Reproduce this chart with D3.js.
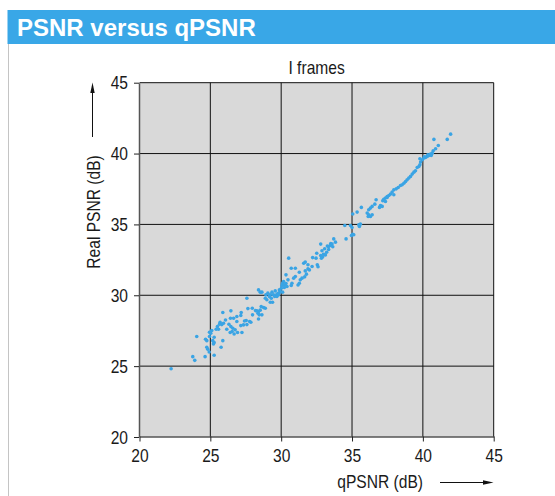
<!DOCTYPE html>
<html>
<head>
<meta charset="utf-8">
<script src="https://cdn.jsdelivr.net/npm/d3@7"></script>
<style>
  html, body { margin: 0; padding: 0; background: #ffffff; }
  svg { display: block; }
</style>
</head>
<body>
<svg id="chart" width="555" height="496"></svg>
<script>
// ---- Data ----
const chartTitle = "PSNR versus qPSNR";
const panelTitle = "I frames";
const xLabel = "qPSNR (dB)";
const yLabel = "Real PSNR (dB)";
const xTicks = [20, 25, 30, 35, 40, 45];
const yTicks = [20, 25, 30, 35, 40, 45];

// qPSNR (x) values of I frames
const qPSNR = [
  27.58,25.88,26.45,27.18,27.65,27.96,28.19,26.87,27.15,26.64,26.42,26.07,25.69,25.93,25.81,25.65,25.50,25.58,25.41,26.31,
  26.45,26.16,26.40,26.54,26.68,26.92,27.23,27.34,27.53,27.58,27.77,27.86,27.15,27.41,26.87,26.59,26.75,24.04,24.66,24.75,
  24.94,25.03,25.10,24.94,25.27,25.17,25.27,25.22,25.88,25.76,24.75,24.82,24.92,25.27,24.63,23.76,23.90,22.23,
  33.71,32.79,33.50,33.26,33.64,33.07,33.35,32.88,33.21,32.98,32.79,33.12,32.93,32.84,32.51,32.22,32.46,32.55,32.60,32.18,
  31.89,31.70,31.59,31.89,31.70,31.99,31.78,31.66,31.47,30.53,30.71,31.00,30.34,31.00,30.88,31.28,31.35,31.28,31.19,30.17,
  30.10,30.05,30.24,30.34,30.41,30.22,30.01,29.87,29.94,30.10,29.82,29.70,30.48,30.76,30.71,28.40,28.64,28.52,28.92,29.06,
  29.23,29.35,29.46,29.58,29.54,29.70,29.16,28.88,28.99,29.23,29.39,29.82,29.30,27.98,28.29,28.40,28.52,28.36,28.45,28.40,
  28.88,28.76,28.59,28.64,
  38.42,38.26,38.12,37.95,37.83,37.72,37.95,37.60,37.48,37.36,37.24,37.17,37.36,37.48,37.01,37.13,36.94,36.70,36.61,36.42,
  36.30,36.18,36.07,36.18,36.30,36.42,36.14,35.66,35.36,35.05,34.49,34.89,35.00,35.48,35.59,35.52,35.05,34.96,35.12,34.58,
  33.83,33.59,33.47,33.35,
  41.96,41.72,40.78,41.09,40.90,40.73,40.66,40.54,40.43,40.31,40.19,40.07,39.96,39.79,39.84,39.79,39.72,39.60,39.48,39.37,
  39.25,39.13,39.01,38.89,38.78,38.66,38.54,40.59,40.35,40.12
];

// Real PSNR (y) values of I frames
const realPSNR = [
  29.79,28.78,28.90,28.78,29.06,29.09,28.92,28.50,28.57,28.38,28.38,28.26,28.10,28.03,27.93,27.96,27.79,27.60,27.60,27.96,
  27.79,27.60,27.37,27.44,27.27,27.37,27.37,27.91,28.22,27.93,28.15,28.10,27.86,28.19,28.15,27.67,27.56,27.09,26.90,26.80,
  27.09,27.32,27.51,27.39,27.04,26.80,26.66,26.57,26.80,26.33,26.33,26.19,26.00,25.77,25.67,25.67,25.41,24.82,
  33.98,33.61,33.65,33.47,33.42,33.28,33.23,33.14,33.04,32.90,32.81,32.85,32.71,32.62,32.97,32.66,32.62,32.15,32.01,32.03,
  32.15,32.34,32.26,31.86,31.72,31.79,31.49,31.30,31.21,32.62,31.91,31.91,31.44,31.32,31.21,31.63,31.09,30.85,30.73,30.97,
  30.85,30.69,30.73,30.83,30.62,30.55,30.50,30.38,30.26,30.22,30.15,30.08,31.09,30.85,30.69,30.38,30.22,30.22,30.03,30.15,
  30.03,30.22,30.03,30.31,29.91,29.91,29.91,29.79,29.68,29.51,29.51,30.03,29.79,28.62,28.90,28.85,28.95,28.73,28.62,28.33,
  29.09,29.13,29.20,28.62,
  37.75,37.61,37.51,37.44,37.28,37.14,37.09,37.04,36.97,36.86,36.78,36.67,36.62,36.90,36.34,36.27,36.20,36.74,36.43,36.27,
  36.15,36.03,35.80,35.68,35.56,35.68,35.56,36.20,35.87,35.73,34.92,34.92,34.78,34.97,35.02,34.85,34.31,34.22,34.27,33.98,
  33.75,33.61,33.51,33.44,
  41.37,41.00,41.00,40.57,40.34,40.20,40.03,39.96,39.87,39.80,39.73,39.68,39.56,39.63,39.40,39.21,39.09,39.02,38.79,38.69,
  38.55,38.39,38.27,38.15,38.03,37.91,37.80,39.87,39.92,39.78
];

// ---- Drawing ----
const svg = d3.select("#chart");
const sans = "'Liberation Sans', Arial, sans-serif";
const BLUE = "#39a7e7";
const TXT = "#1a1a1a";

// condensed look: compress Liberation Sans horizontally (real text kept)
function narrow(sel, size) {
  sel.attr("font-family", sans).attr("font-size", size).attr("fill", TXT);
  sel.each(function () {
    const w = this.getComputedTextLength();
    d3.select(this).attr("textLength", (w * 0.82).toFixed(2)).attr("lengthAdjust", "spacingAndGlyphs");
  });
}

svg.append("rect").attr("x", 0).attr("y", 0).attr("width", 555).attr("height", 496).attr("fill", "#ffffff");

// Title bar
svg.append("rect").attr("x", 7.5).attr("y", 10).attr("width", 547.5).attr("height", 34).attr("fill", BLUE);
svg.append("text").attr("x", 17).attr("y", 35.5)
  .attr("font-family", sans).attr("font-weight", "bold")
  .attr("font-size", 24).attr("fill", "#ffffff").text(chartTitle);

// left frame border
svg.append("line").attr("x1", 8.5).attr("x2", 8.5).attr("y1", 44).attr("y2", 496)
  .attr("stroke", "#c4c4c4").attr("stroke-width", 1);

const x = d3.scaleLinear().domain([20, 45]).range([139.5, 493.7]);
const y = d3.scaleLinear().domain([20, 45]).range([437, 82.7]);

// plot background
svg.append("rect").attr("x", x(20)).attr("y", y(45))
  .attr("width", x(45) - x(20)).attr("height", y(20) - y(45)).attr("fill", "#d9d9d9");

// grid
const grid = svg.append("g");
grid.selectAll("line.v").data(xTicks.filter(t => t !== 20)).join("line")
  .attr("x1", d => x(d)).attr("x2", d => x(d)).attr("y1", y(45)).attr("y2", y(20))
  .attr("stroke", "#111").attr("stroke-width", 1);
grid.selectAll("line.h").data(yTicks.filter(t => t !== 20)).join("line")
  .attr("x1", x(20)).attr("x2", x(45)).attr("y1", d => y(d)).attr("y2", d => y(d))
  .attr("stroke", "#111").attr("stroke-width", 1);

// axes
const xAxis = svg.append("g").attr("transform", `translate(0,${y(20) - 0.5})`)
  .call(d3.axisBottom(x).tickValues(xTicks).tickSize(5).tickSizeOuter(0).tickPadding(7));
const yAxis = svg.append("g").attr("transform", `translate(${x(20) - 0.5},0)`)
  .call(d3.axisLeft(y).tickValues(yTicks).tickSize(5).tickSizeOuter(0).tickPadding(6));
[xAxis, yAxis].forEach(g => {
  g.select(".domain").attr("stroke", "#555").attr("stroke-width", 1.5);
  g.selectAll(".tick line").attr("stroke", "#222");
  g.selectAll(".tick text").call(narrow, 19);
});

// points
svg.append("g").selectAll("circle").data(qPSNR.map((v, i) => [v, realPSNR[i]])).join("circle")
  .attr("cx", d => x(d[0])).attr("cy", d => y(d[1])).attr("r", 1.8).attr("fill", "#3aa4e4");

// panel title
svg.append("text").attr("x", (x(20) + x(45)) / 2).attr("y", 74).attr("text-anchor", "middle")
  .text(panelTitle).call(narrow, 19);

// axis titles
svg.append("text").attr("x", 423).attr("y", 488).attr("text-anchor", "end")
  .text(xLabel).call(narrow, 19);
svg.append("text").attr("transform", "translate(99.5,212) rotate(-90)").attr("text-anchor", "middle")
  .text(yLabel).call(narrow, 19);

// arrows
svg.append("line").attr("x1", 440).attr("x2", 485).attr("y1", 482.5).attr("y2", 482.5)
  .attr("stroke", "#111").attr("stroke-width", 1);
svg.append("path").attr("d", "M493.5,482.5 L483,480.3 L483,484.7 Z").attr("fill", "#111");
svg.append("line").attr("x1", 92.5).attr("x2", 92.5).attr("y1", 137).attr("y2", 92)
  .attr("stroke", "#111").attr("stroke-width", 1);
svg.append("path").attr("d", "M92.5,82.5 L90.3,93 L94.7,93 Z").attr("fill", "#111");
</script>
</body>
</html>
